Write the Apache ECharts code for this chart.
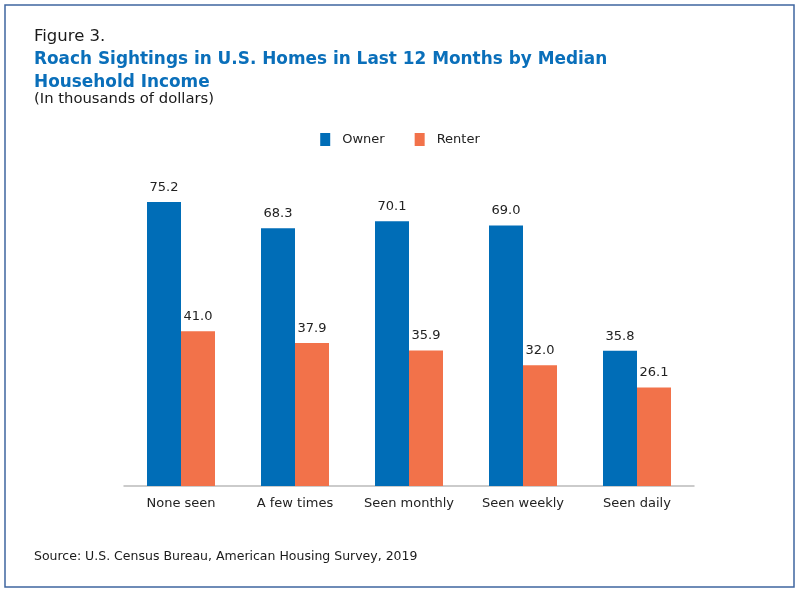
<!DOCTYPE html>
<html>
<head>
<meta charset="utf-8">
<script src="https://cdn.jsdelivr.net/npm/echarts@6/dist/echarts.min.js"></script>
<style>
  html, body { margin: 0; padding: 0; background: #fff; }
  #chart { width: 800px; height: 594px; }
</style>
</head>
<body>
<div id="chart"></div>
<script>
// 数据
const categories = ['None seen', 'A few times', 'Seen monthly', 'Seen weekly', 'Seen daily']
const ownerValues = [75.2, 68.3, 70.1, 69.0, 35.8]
const renterValues = [41.0, 37.9, 35.9, 32.0, 26.1]

const fontName = 'DejaVu Sans'

let myChart = echarts.init(document.getElementById('chart'))
let option = {
    backgroundColor: '#fff',
    textStyle: { fontFamily: fontName },
    animation: false,
    graphic: [
        {
            type: 'rect',
            shape: { x: 5, y: 5, width: 789, height: 582 },
            style: { fill: 'none', stroke: '#3f66a0', lineWidth: 1.5 }
        },
        {
            type: 'text', left: 34, top: 28,
            style: { text: 'Figure 3.', font: '16.5px ' + fontName, fill: '#1a1a1a' }
        },
        {
            type: 'text', left: 34, top: 48,
            style: {
                text: 'Roach Sightings in U.S. Homes in Last 12 Months by Median\nHousehold Income',
                font: 'bold 16.9px ' + fontName, fill: '#0a6fba', lineHeight: 23
            }
        },
        {
            type: 'text', left: 34, top: 92,
            style: { text: '(In thousands of dollars)', font: '14.8px ' + fontName, fill: '#1a1a1a' }
        },
        {
            type: 'text', left: 34, top: 550,
            style: { text: 'Source: U.S. Census Bureau, American Housing Survey, 2019', font: '12.5px ' + fontName, fill: '#1a1a1a' }
        }
    ],
    legend: {
        top: 128,
        left: 'center',
        itemWidth: 10,
        itemHeight: 13,
        itemGap: 30,
        icon: 'rect',
        textStyle: { fontSize: 13, color: '#222', fontFamily: fontName, padding: [0, 0, 0, 7] },
        data: ['Owner', 'Renter']
    },
    grid: {
        left: 124,
        right: 106,
        top: 184,
        bottom: 108,
        containLabel: false
    },
    xAxis: {
        type: 'category',
        data: categories,
        axisLine: { lineStyle: { color: '#bbbbbb', width: 1.5 } },
        axisTick: { show: false },
        axisLabel: { interval: 0, color: '#222', fontSize: 13, margin: 11, fontFamily: fontName }
    },
    yAxis: {
        type: 'value',
        min: 0,
        max: 80,
        show: false,
        splitLine: { show: false }
    },
    series: [
        {
            name: 'Owner',
            type: 'bar',
            barWidth: 34,
            barGap: '0%',
            data: ownerValues,
            itemStyle: { color: '#006db7' },
            label: {
                show: true, position: 'top', distance: 8,
                color: '#222', fontSize: 13, fontFamily: fontName,
                formatter: p => p.value.toFixed(1)
            }
        },
        {
            name: 'Renter',
            type: 'bar',
            barWidth: 34,
            data: renterValues,
            itemStyle: { color: '#f2724a' },
            label: {
                show: true, position: 'top', distance: 8,
                color: '#222', fontSize: 13, fontFamily: fontName,
                formatter: p => p.value.toFixed(1)
            }
        }
    ]
}
myChart.setOption(option)
</script>
</body>
</html>
